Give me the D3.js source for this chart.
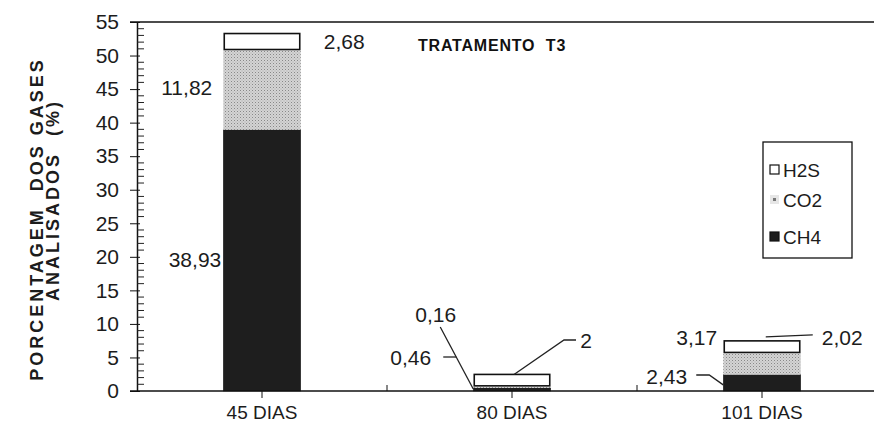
<!DOCTYPE html>
<html>
<head>
<meta charset="utf-8">
<script src="https://cdn.jsdelivr.net/npm/d3@7"></script>
<style>
  html, body { margin: 0; padding: 0; background: #fff; }
  svg { display: block; font-family: Arial, "Liberation Sans", sans-serif; }
</style>
</head>
<body>
<svg id="chart" width="874" height="427"></svg>
<script>
// Periods of the T3 treatment
const categories = ["45 DIAS", "80 DIAS", "101 DIAS"];
// Gas percentages per period (stacked bottom to top: CH4, CO2, H2S)
const ch4 = [38.93, 0.46, 2.43];
const co2 = [11.82, 0.16, 3.17];
const h2s = [2.68, 2.00, 2.02];
const seriesNames = ["CH4", "CO2", "H2S"];
const legendOrder = ["H2S", "CO2", "CH4"];
const yTicks = [0, 5, 10, 15, 20, 25, 30, 35, 40, 45, 50, 55];

const fmt = v => (Number.isInteger(v) ? String(v) : v.toFixed(2)).replace(".", ",");

const svg = d3.select("#chart");
const W = 874;
const plotLeft = 137, plotTop = 22, plotBottom = 391, plotRight = 887;
const ink = "#1c1c1c";

const x = d3.scaleBand().domain(categories).range([plotLeft, plotRight])
  .paddingInner(0.69).paddingOuter(0.345);
const y = d3.scaleLinear().domain([0, 55]).range([plotBottom, plotTop]);

// Stipple for the CO2 segments
const defs = svg.append("defs");
const pat = defs.append("pattern").attr("id", "stip").attr("patternUnits", "userSpaceOnUse")
  .attr("width", 3).attr("height", 3);
pat.append("rect").attr("width", 3).attr("height", 3).attr("fill", "#d4d4d4");
pat.append("rect").attr("x", 0).attr("y", 0).attr("width", 1).attr("height", 1).attr("fill", "#888");
pat.append("rect").attr("x", 1.5).attr("y", 1.5).attr("width", 1).attr("height", 1).attr("fill", "#aaa");

const fills = { CH4: "#1e1e1e", CO2: "url(#stip)", H2S: "#fff" };
const strokes = { CH4: "#1e1e1e", CO2: "none", H2S: "#111" };

const rows = categories.map((c, i) => ({ cat: c, CH4: ch4[i], CO2: co2[i], H2S: h2s[i] }));
const stacked = d3.stack().keys(seriesNames)(rows);

// Frame: top line
svg.append("line").attr("x1", 130).attr("x2", W).attr("y1", y(55)).attr("y2", y(55))
  .attr("stroke", "#111").attr("stroke-width", 1.5);

// Bars
const g = svg.append("g");
stacked.forEach(layer => {
  const inset = layer.key === "H2S" ? 1 : 0;
  g.selectAll(null).data(layer).enter().append("rect")
    .attr("x", d => x(d.data.cat) + inset)
    .attr("width", x.bandwidth() - 2 * inset)
    .attr("y", d => y(d[1]) + inset)
    .attr("height", d => Math.max(0, y(d[0]) - y(d[1]) - 2 * inset))
    .attr("fill", fills[layer.key])
    .attr("stroke", strokes[layer.key])
    .attr("stroke-width", layer.key === "H2S" ? 1.6 : 0.5);
});

// Y axis with major ticks crossing the line
const yAxis = d3.axisLeft(y).tickValues(yTicks).tickSizeInner(7).tickSizeOuter(0).tickPadding(11)
  .tickFormat(d => d);
const ya = svg.append("g").attr("transform", `translate(${plotLeft},0)`).call(yAxis);
ya.select(".domain").attr("stroke", "#111").attr("stroke-width", 1.5);
ya.selectAll(".tick line").attr("stroke", "#111").attr("x2", 3).attr("x1", -7);
ya.selectAll(".tick text").attr("font-size", 21).attr("fill", ink)
  .attr("font-family", "Arial, 'Liberation Sans', sans-serif");

// Minor ticks every unit, pointing inward
const minor = d3.range(0, 56).filter(v => v % 5 !== 0);
svg.append("g").selectAll("line").data(minor).enter().append("line")
  .attr("x1", plotLeft).attr("x2", plotLeft + 7)
  .attr("y1", d => y(d)).attr("y2", d => y(d))
  .attr("stroke", "#222").attr("stroke-width", 1);

// X axis baseline and ticks
svg.append("line").attr("x1", 130).attr("x2", W).attr("y1", plotBottom).attr("y2", plotBottom)
  .attr("stroke", "#111").attr("stroke-width", 1.5);
const step = x.step();
const bounds = categories.slice(1).map(c => x(c) - x.paddingOuter() * step);
svg.append("g").selectAll("line").data(bounds).enter().append("line")
  .attr("x1", d => d).attr("x2", d => d).attr("y1", plotBottom).attr("y2", plotBottom - 6)
  .attr("stroke", "#111").attr("stroke-width", 1);
svg.append("g").selectAll("line").data(categories).enter().append("line")
  .attr("x1", d => x(d) + x.bandwidth() / 2).attr("x2", d => x(d) + x.bandwidth() / 2)
  .attr("y1", plotBottom).attr("y2", plotBottom + 7)
  .attr("stroke", "#111").attr("stroke-width", 1);
svg.append("g").selectAll("text").data(categories).enter().append("text")
  .attr("x", d => x(d) + x.bandwidth() / 2).attr("y", 419)
  .attr("text-anchor", "middle").attr("font-size", 19).attr("fill", ink)
  .text(d => d);

// Y axis title (two lines)
const yTitle = [
  { text: "PORCENTAGEM  DOS GASES", bx: 43, cy: 219 },
  { text: "ANALISADOS  (%)", bx: 59, cy: 200 }
];
svg.selectAll("text.ytitle").data(yTitle).enter()
  .append("text").attr("class", "ytitle")
  .attr("transform", d => `translate(${d.bx},${d.cy}) rotate(-90)`)
  .attr("text-anchor", "middle").attr("font-size", 18).attr("font-weight", "bold")
  .attr("fill", ink).style("white-space", "pre").style("letter-spacing", "3px")
  .text(d => d.text);

// Title
svg.append("text").attr("x", 418).attr("y", 51).attr("font-size", 16).attr("font-weight", "bold")
  .attr("fill", "#111").style("white-space", "pre").style("letter-spacing", "0.8px")
  .text("TRATAMENTO  T3");

// Value labels
const lab = (tx, ty, txt, anchor) => svg.append("text").attr("x", tx).attr("y", ty)
  .attr("text-anchor", anchor || "start").attr("font-size", 21).attr("fill", ink).text(txt);
const lead = pts => svg.append("path").attr("d", d3.line()(pts))
  .attr("fill", "none").attr("stroke", "#222").attr("stroke-width", 1.3);

// 45 DIAS
{
  const c = categories[0], x0 = x(c), x1 = x0 + x.bandwidth();
  lab(x1 + 23, y(ch4[0] + co2[0] + h2s[0] / 2) + 7, fmt(h2s[0]));
  lab(x0 - 11, y(ch4[0] + co2[0] / 2) + 5, fmt(co2[0]), "end");
  lab(x0 - 2, y(ch4[0] / 2) + 7, fmt(ch4[0]), "end");
}
// 80 DIAS
{
  const c = categories[1], x0 = x(c), xm = x0 + x.bandwidth() / 2;
  const yb = y(0) - 2;
  lab(x0 - 58, 322, fmt(co2[1]));
  lead([[x0 - 33, 327], [x0, yb]]);
  lab(x0 - 83, 365, fmt(ch4[1]));
  lead([[x0 - 30, 357], [x0 - 17, 357]]);
  const yt2 = y(ch4[1] + co2[1] + h2s[1]) + 1;
  lab(x0 + 107, 348, fmt(h2s[1]));
  lead([[xm + 2, yt2], [xm + 52, 340], [xm + 64, 340]]);
}
// 101 DIAS
{
  const c = categories[2], x0 = x(c), x1 = x0 + x.bandwidth();
  lab(x0 - 47, 345, fmt(co2[2]));
  lab(x0 - 77, 384, fmt(ch4[2]));
  lead([[x0 - 27, 375], [x0 - 14, 375], [x0, y(ch4[2] / 2) + 2]]);
  const ytop = y(ch4[2] + co2[2] + h2s[2]);
  lab(x1 + 21, 345, fmt(h2s[2]));
  lead([[x1 - 35, ytop - 3], [x1 + 12, ytop - 5]]);
}

// Legend
const lg = svg.append("g").attr("transform", "translate(763,142)");
lg.append("rect").attr("width", 89).attr("height", 116).attr("fill", "#fff")
  .attr("stroke", "#111").attr("stroke-width", 1.3);
legendOrder.forEach((k, i) => {
  const yy = [28, 58, 95][i];
  lg.append("rect").attr("x", 7).attr("y", yy - 5).attr("width", 9).attr("height", 9)
    .attr("fill", k === "CO2" ? "#e6e6e6" : fills[k])
    .attr("stroke", k === "CO2" ? "none" : "#111").attr("stroke-width", 1.2);
  if (k === "CO2") {
    lg.append("rect").attr("x", 10).attr("y", yy - 2).attr("width", 3).attr("height", 3).attr("fill", "#777");
  }
  lg.append("text").attr("x", 20).attr("y", yy + 7).attr("font-size", 19).attr("fill", ink).text(k);
});
</script>
</body>
</html>
